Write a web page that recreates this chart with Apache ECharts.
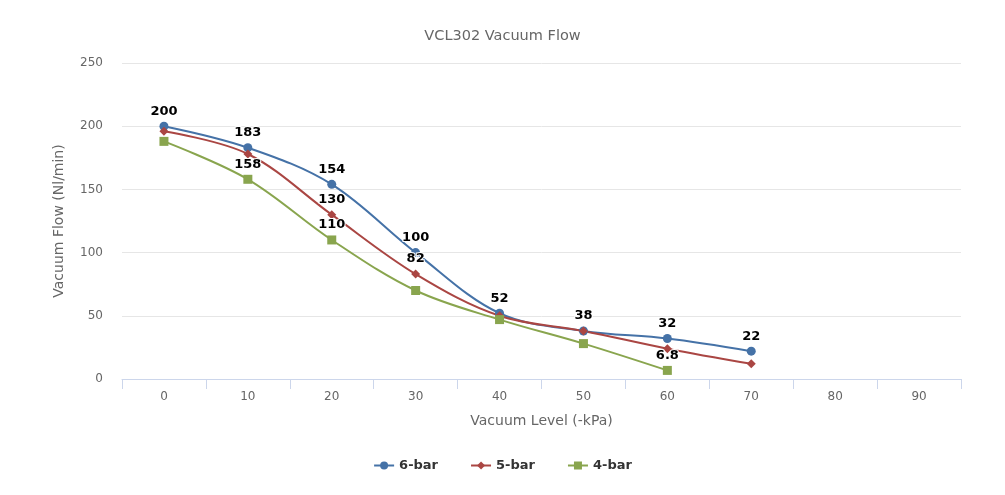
<!DOCTYPE html>
<html>
<head>
<meta charset="utf-8">
<script src="https://cdn.jsdelivr.net/npm/echarts@6/dist/echarts.min.js"></script>
<style>html,body{margin:0;padding:0;background:#fff}#c{width:1005px;height:495px}</style>
</head>
<body>
<div id="c"></div>
<script>
const categories = ['0','10','20','30','40','50','60','70','80','90'];
const bar6 = [200, 183, 154, 100, 52, 38, 32, 22];
const bar5 = [196, 178, 130, 83, 50, 38, 24, 12];
const bar4 = [188, 158, 110, 70, 47, 28, 6.8];
const labels6 = ['200','183','154','100','52','38','32','22'];
const labels5 = ['','','130','82','','','',''];
const labels4 = ['','158','110','','','','6.8'];
const seriesNames = ['6-bar','5-bar','4-bar'];

const FONT = '"DejaVu Sans", Verdana, sans-serif';
const colors = ['#4572A7','#AA4643','#89A54E'];
const chart = echarts.init(document.getElementById('c'), null, {renderer:'canvas'});

function mk(name, data, labels, color, symbol, size){
  return {
    name, type:'line', data, smooth:0.35, symbol, symbolSize:size,
    itemStyle:{color}, lineStyle:{color, width:2},
    emphasis:{disabled:true},
    label:{show:true, position:'top', distance:4, fontFamily:FONT, fontSize:13, fontWeight:'bold', color:'#000',
      textBorderColor:'#fff', textBorderWidth:2,
      formatter:p=>labels[p.dataIndex]||''},
    z: 3
  };
}

chart.setOption({
  animation:false,
  color:colors,
  title:{text:'VCL302 Vacuum Flow', left:'center', top:24,
    textStyle:{fontFamily:FONT, fontSize:14.5, fontWeight:'normal', color:'#666'}},
  grid:{left:122, right:44, top:63, bottom:116},
  legend:{bottom:18, left:'center', itemGap:32, itemWidth:20, itemHeight:10,
    textStyle:{fontFamily:FONT, fontSize:13, fontWeight:'bold', color:'#333'},
    data:seriesNames},
  xAxis:{type:'category', data:categories, boundaryGap:true,
    name:'Vacuum Level (-kPa)', nameLocation:'middle', nameGap:35,
    nameTextStyle:{fontFamily:FONT, fontSize:14, color:'#666'},
    axisLine:{lineStyle:{color:'#ccd6eb'}},
    axisTick:{show:true, length:10, lineStyle:{color:'#ccd6eb'}, alignWithLabel:false},
    axisLabel:{fontFamily:FONT, fontSize:12, color:'#666', margin:12},
    splitLine:{show:false}},
  yAxis:{type:'value', min:0, max:250, interval:50,
    name:'Vacuum Flow (Nl/min)', nameLocation:'middle', nameGap:56,
    nameTextStyle:{fontFamily:FONT, fontSize:14, color:'#666'},
    axisLine:{show:false}, axisTick:{show:false},
    axisLabel:{fontFamily:FONT, fontSize:12, color:'#666', margin:19},
    splitLine:{lineStyle:{color:'#e6e6e6'}}},
  series:[
    mk(seriesNames[0], bar6, labels6, colors[0], 'circle', 9),
    mk(seriesNames[1], bar5, labels5, colors[1], 'diamond', 9),
    mk(seriesNames[2], bar4, labels4, colors[2], 'rect', 9)
  ]
});
</script>
</body>
</html>
